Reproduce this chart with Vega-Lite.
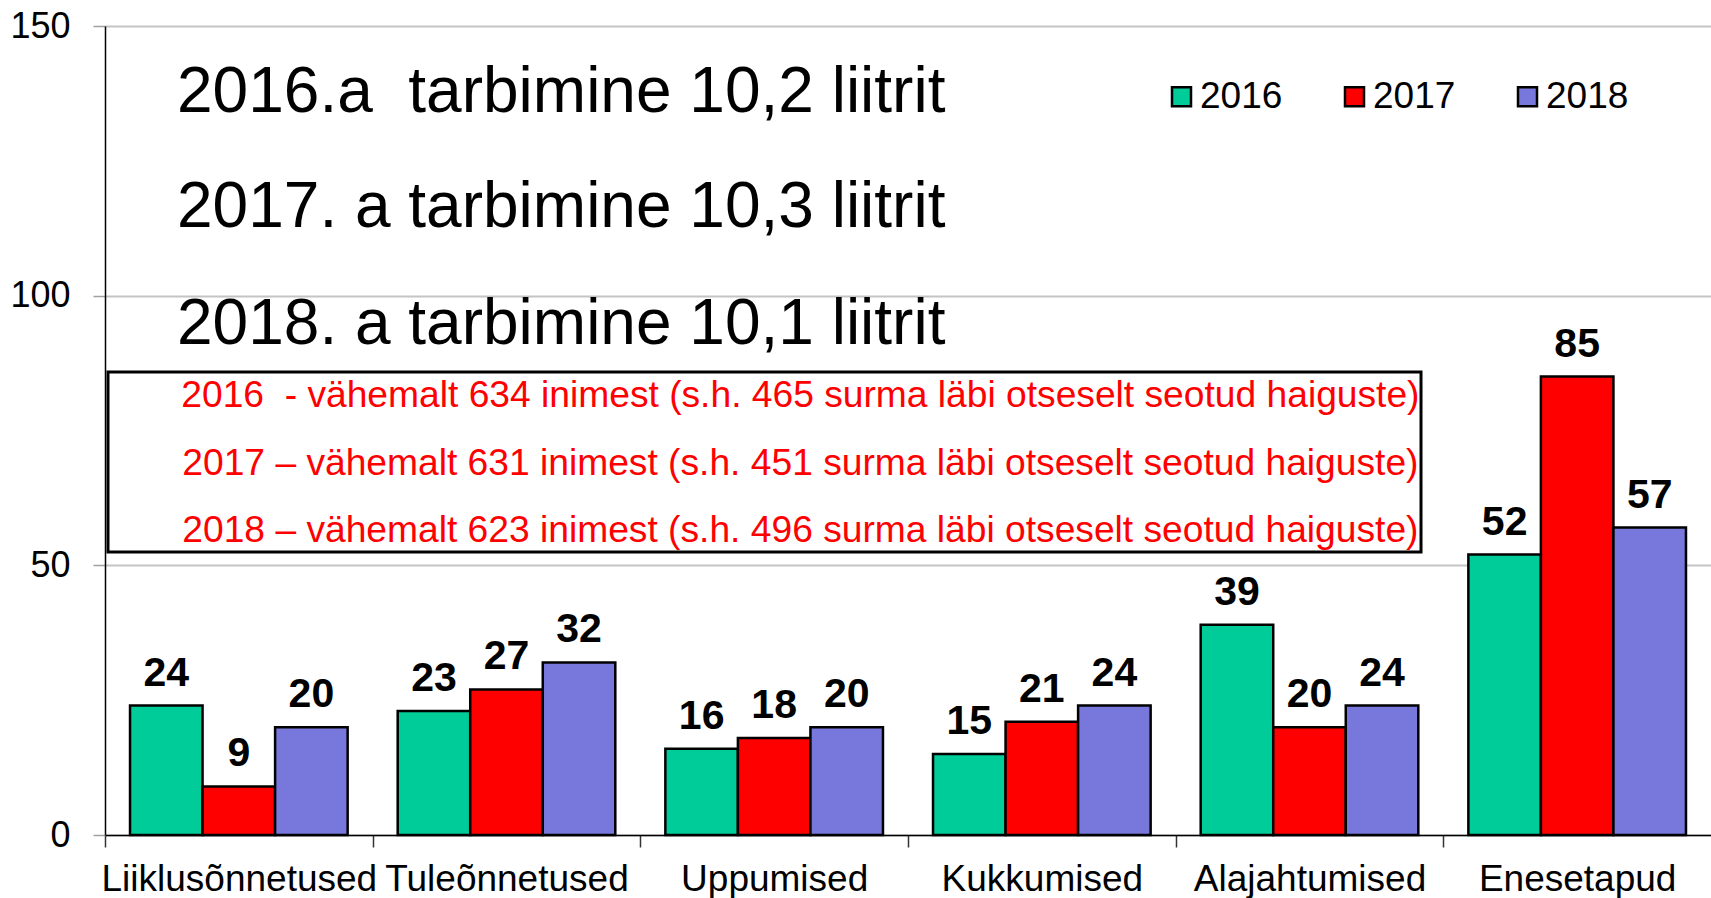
{
  "$schema": "https://vega.github.io/schema/vega-lite/v6.json",
  "width": 1606,
  "height": 809,
  "autosize": {"type": "none"},
  "padding": {"left": 105, "top": 26, "right": 0, "bottom": 63},
  "background": "white",
  "config": {
    "view": {"stroke": null},
    "font": "Liberation Sans",
    "axis": {"labelFont": "Liberation Sans", "labelColor": "black"},
    "legend": {"labelFont": "Liberation Sans"}
  },
  "layer": [
    {
      "data": {
        "values": [
          {"kategooria": "Liiklusõnnetused", "aasta": "2016", "arv": 24},
          {"kategooria": "Liiklusõnnetused", "aasta": "2017", "arv": 9},
          {"kategooria": "Liiklusõnnetused", "aasta": "2018", "arv": 20},
          {"kategooria": "Tuleõnnetused", "aasta": "2016", "arv": 23},
          {"kategooria": "Tuleõnnetused", "aasta": "2017", "arv": 27},
          {"kategooria": "Tuleõnnetused", "aasta": "2018", "arv": 32},
          {"kategooria": "Uppumised", "aasta": "2016", "arv": 16},
          {"kategooria": "Uppumised", "aasta": "2017", "arv": 18},
          {"kategooria": "Uppumised", "aasta": "2018", "arv": 20},
          {"kategooria": "Kukkumised", "aasta": "2016", "arv": 15},
          {"kategooria": "Kukkumised", "aasta": "2017", "arv": 21},
          {"kategooria": "Kukkumised", "aasta": "2018", "arv": 24},
          {"kategooria": "Alajahtumised", "aasta": "2016", "arv": 39},
          {"kategooria": "Alajahtumised", "aasta": "2017", "arv": 20},
          {"kategooria": "Alajahtumised", "aasta": "2018", "arv": 24},
          {"kategooria": "Enesetapud", "aasta": "2016", "arv": 52},
          {"kategooria": "Enesetapud", "aasta": "2017", "arv": 85},
          {"kategooria": "Enesetapud", "aasta": "2018", "arv": 57}
        ]
      },
      "encoding": {
        "x": {
          "field": "kategooria",
          "type": "nominal",
          "sort": null,
          "scale": {"paddingInner": 0.187, "paddingOuter": 0.0935},
          "axis": {
            "title": null,
            "labelAngle": 0,
            "labelFontSize": 37,
            "labelPadding": 14,
            "labelLimit": 0,
            "labelOverlap": false,
            "labelFlush": false,
            "labelBound": false,
            "bandPosition": 0,
            "tickOffset": -25,
            "labelOffset": 25,
            "tickSize": 12,
            "tickColor": "#333333",
            "tickWidth": 1.5,
            "domainColor": "black",
            "domainWidth": 1.5,
            "grid": false
          }
        },
        "xOffset": {"field": "aasta", "type": "nominal", "scale": {"paddingInner": 0, "paddingOuter": 0}},
        "y": {
          "field": "arv",
          "type": "quantitative",
          "scale": {"domain": [0, 150], "nice": false},
          "axis": {
            "title": null,
            "values": [0, 50, 100, 150],
            "labelFontSize": 36,
            "labelPadding": 23,
            "tickSize": 12,
            "tickColor": "#a0a0a0",
            "tickWidth": 1.5,
            "grid": true,
            "gridColor": "#c4c4c4",
            "gridWidth": 2,
            "domainColor": "black",
            "domainWidth": 1.5
          }
        }
      },
      "layer": [
        {
          "mark": {"type": "bar", "stroke": "black", "strokeWidth": 2.5},
          "encoding": {
            "color": {
              "field": "aasta",
              "type": "nominal",
              "scale": {"domain": ["2016", "2017", "2018"], "range": ["#00CC99", "#FF0000", "#7878DC"]},
              "legend": {
                "title": null,
                "orient": "none",
                "legendX": 1058,
                "legendY": 52,
                "direction": "horizontal",
                "padding": 0,
                "symbolType": "square",
                "symbolSize": 361,
                "symbolStrokeColor": "black",
                "symbolStrokeWidth": 2.5,
                "symbolOpacity": 1,
                "labelFontSize": 37,
                "labelColor": "black",
                "labelOffset": 0,
                "columnPadding": 53
              }
            }
          }
        },
        {
          "mark": {"type": "text", "fontSize": 41, "fontWeight": "bold", "color": "black", "baseline": "alphabetic", "dy": -20},
          "encoding": {"text": {"field": "arv", "type": "quantitative"}}
        }
      ]
    },
    {
      "encoding": {
        "x": {"field": "u", "type": "quantitative", "scale": {"domain": [0, 6], "nice": false, "zero": false}, "axis": null},
        "y": {"field": "v", "type": "quantitative"}
      },
      "layer": [
        {
          "data": {"values": [{"u": 0.0112, "u2": 4.9166, "v": 85.85, "v2": 52.48}]},
          "mark": {"type": "rect", "fill": "white", "fillOpacity": 0, "stroke": "black", "strokeWidth": 3},
          "encoding": {"x2": {"field": "u2"}, "y2": {"field": "v2"}}
        },
        {
          "data": {
            "values": [
              {"u": 0.269, "v": 134.1, "tekst": "2016.a\u00a0\u00a0tarbimine 10,2 liitrit"},
              {"u": 0.269, "v": 112.8, "tekst": "2017. a tarbimine 10,3 liitrit"},
              {"u": 0.269, "v": 91.0, "tekst": "2018. a tarbimine 10,1 liitrit"}
            ]
          },
          "mark": {"type": "text", "fontSize": 64, "align": "left", "baseline": "alphabetic", "color": "black"},
          "encoding": {"text": {"field": "tekst"}}
        },
        {
          "data": {
            "values": [
              {"u": 2.598, "v": 79.36, "tekst": "2016\u00a0\u00a0- vähemalt 634 inimest (s.h. 465 surma läbi otseselt seotud haiguste)"},
              {"u": 2.598, "v": 66.75, "tekst": "2017 – vähemalt 631 inimest (s.h. 451 surma läbi otseselt seotud haiguste)"},
              {"u": 2.598, "v": 54.33, "tekst": "2018 – vähemalt 623 inimest (s.h. 496 surma läbi otseselt seotud haiguste)"}
            ]
          },
          "mark": {"type": "text", "fontSize": 37.2, "align": "center", "baseline": "alphabetic", "color": "#FF0000"},
          "encoding": {"text": {"field": "tekst"}}
        }
      ]
    }
  ],
  "resolve": {"scale": {"x": "independent"}}
}
